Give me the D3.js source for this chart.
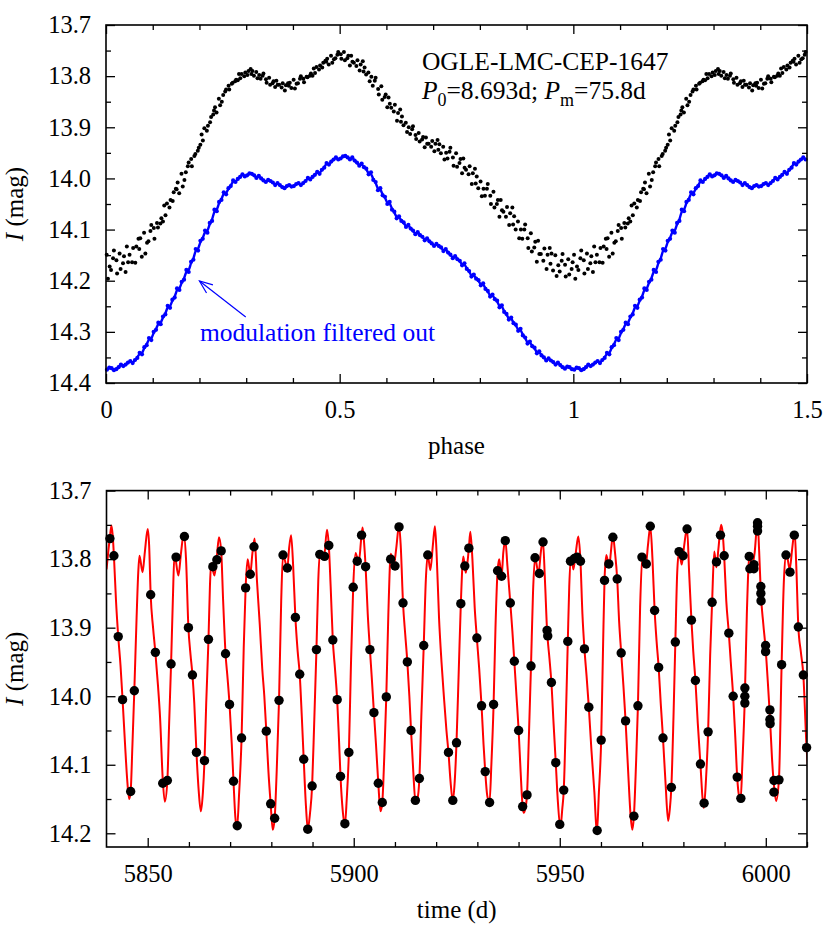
<!DOCTYPE html>
<html><head><meta charset="utf-8">
<script src="https://cdn.jsdelivr.net/npm/d3@7"></script>
<style>body{margin:0;background:#fff;}</style>
</head><body><svg id="c" width="830" height="930"></svg>
<script>
// ---------------- DATA ----------------
const phaseTickValues = [0, 0.5, 1, 1.5];
const phaseTickLabels = ["0", "0.5", "1", "1.5"];
const phaseMinorTicks = [0.1,0.2,0.3,0.4,0.6,0.7,0.8,0.9,1.1,1.2,1.3,1.4];
const magTopTickValues = [13.7,13.8,13.9,14.0,14.1,14.2,14.3,14.4];
const magTopTickLabels = ["13.7","13.8","13.9","14.0","14.1","14.2","14.3","14.4"];
const magTopMinor = [13.75,13.85,13.95,14.05,14.15,14.25,14.35];
const timeTickValues = [5850, 5900, 5950, 6000];
const timeTickLabels = ["5850", "5900", "5950", "6000"];
const timeMinorTicks = [5860,5870,5880,5890,5910,5920,5930,5940,5960,5970,5980,5990,6010];
const magBotTickValues = [13.7,13.8,13.9,14.0,14.1,14.2];
const magBotTickLabels = ["13.7","13.8","13.9","14.0","14.1","14.2"];
const magBotMinor = [13.75,13.85,13.95,14.05,14.15];

// raw photometry folded with P0 (phase, I mag)
const rawPhased = [
[0.0015,14.149],[0.0042,14.196],[0.0078,14.172],[0.0108,14.179],[0.0151,14.156],[0.0169,14.141],
[0.0223,14.160],[0.0237,14.186],[0.0291,14.147],[0.0312,14.177],[0.0364,14.166],[0.0385,14.152],
[0.0419,14.183],[0.0446,14.133],[0.0473,14.164],[0.0504,14.149],[0.0558,14.164],[0.0581,14.136],
[0.0627,14.165],[0.0649,14.133],[0.0695,14.118],[0.0711,14.138],[0.0733,14.117],[0.0766,14.153],
[0.0815,14.106],[0.0842,14.147],[0.0878,14.126],[0.0908,14.123],[0.0951,14.103],[0.0969,14.091],
[0.1023,14.097],[0.1037,14.118],[0.1091,14.087],[0.1112,14.096],[0.1164,14.088],[0.1185,14.078],
[0.1219,14.084],[0.1246,14.053],[0.1273,14.072],[0.1304,14.049],[0.1358,14.057],[0.1381,14.042],
[0.1427,14.044],[0.1449,14.027],[0.1495,14.020],[0.1511,14.021],[0.1533,14.008],[0.1566,14.029],
[0.1615,13.991],[0.1642,14.016],[0.1678,14.003],[0.1708,13.988],[0.1751,13.976],[0.1769,13.969],
[0.1823,13.962],[0.1837,13.976],[0.1891,13.956],[0.1912,13.952],[0.1964,13.946],[0.1985,13.940],
[0.2019,13.934],[0.2046,13.914],[0.2073,13.926],[0.2104,13.902],[0.2158,13.907],[0.2181,13.897],
[0.2227,13.890],[0.2249,13.880],[0.2295,13.875],[0.2311,13.867],[0.2333,13.861],[0.2366,13.871],
[0.2415,13.844],[0.2442,13.857],[0.2478,13.850],[0.2508,13.837],[0.2551,13.830],[0.2569,13.826],
[0.2623,13.819],[0.2637,13.826],[0.2691,13.815],[0.2712,13.813],[0.2764,13.810],[0.2785,13.807],
[0.2819,13.808],[0.2846,13.796],[0.2873,13.804],[0.2904,13.796],[0.2958,13.800],[0.2981,13.793],
[0.3027,13.798],[0.3049,13.790],[0.3095,13.786],[0.3111,13.796],[0.3133,13.790],[0.3166,13.799],
[0.3215,13.792],[0.3242,13.804],[0.3278,13.798],[0.3308,13.805],[0.3351,13.799],[0.3369,13.795],
[0.3423,13.806],[0.3437,13.813],[0.3491,13.803],[0.3512,13.817],[0.3564,13.814],[0.3585,13.810],
[0.3619,13.821],[0.3646,13.809],[0.3673,13.817],[0.3704,13.817],[0.3758,13.822],[0.3781,13.814],
[0.3827,13.828],[0.3849,13.818],[0.3895,13.814],[0.3911,13.819],[0.3933,13.813],[0.3966,13.823],
[0.4015,13.807],[0.4042,13.824],[0.4078,13.815],[0.4108,13.814],[0.4151,13.805],[0.4169,13.800],
[0.4223,13.805],[0.4237,13.812],[0.4291,13.801],[0.4312,13.802],[0.4364,13.799],[0.4385,13.795],
[0.4419,13.799],[0.4446,13.785],[0.4473,13.794],[0.4504,13.782],[0.4558,13.787],[0.4581,13.779],
[0.4627,13.783],[0.4649,13.774],[0.4695,13.770],[0.4711,13.772],[0.4733,13.766],[0.4766,13.777],
[0.4815,13.760],[0.4842,13.774],[0.4878,13.767],[0.4908,13.765],[0.4951,13.758],[0.4969,13.753],
[0.5023,13.757],[0.5037,13.766],[0.5091,13.753],[0.5112,13.769],[0.5164,13.765],[0.5185,13.760],
[0.5219,13.779],[0.5246,13.760],[0.5273,13.772],[0.5304,13.774],[0.5358,13.780],[0.5381,13.769],
[0.5427,13.789],[0.5449,13.777],[0.5495,13.771],[0.5511,13.791],[0.5533,13.783],[0.5566,13.797],
[0.5615,13.793],[0.5642,13.810],[0.5678,13.801],[0.5708,13.819],[0.5751,13.809],[0.5769,13.803],
[0.5823,13.825],[0.5837,13.836],[0.5891,13.820],[0.5912,13.846],[0.5964,13.841],[0.5985,13.836],
[0.6019,13.861],[0.6046,13.842],[0.6073,13.854],[0.6104,13.862],[0.6158,13.869],[0.6181,13.856],
[0.6227,13.887],[0.6249,13.872],[0.6295,13.865],[0.6311,13.889],[0.6333,13.879],[0.6366,13.896],
[0.6415,13.891],[0.6442,13.909],[0.6478,13.900],[0.6508,13.913],[0.6551,13.904],[0.6569,13.898],
[0.6623,13.915],[0.6637,13.923],[0.6691,13.911],[0.6712,13.928],[0.6764,13.924],[0.6785,13.919],
[0.6819,13.939],[0.6846,13.920],[0.6873,13.932],[0.6904,13.932],[0.6958,13.938],[0.6981,13.927],
[0.7027,13.947],[0.7049,13.932],[0.7095,13.925],[0.7111,13.944],[0.7133,13.933],[0.7166,13.951],
[0.7215,13.938],[0.7242,13.963],[0.7278,13.950],[0.7308,13.961],[0.7351,13.948],[0.7369,13.940],
[0.7423,13.959],[0.7437,13.975],[0.7491,13.951],[0.7512,13.977],[0.7564,13.970],[0.7585,13.962],
[0.7619,13.990],[0.7646,13.961],[0.7673,13.979],[0.7704,13.983],[0.7758,13.992],[0.7781,13.976],
[0.7827,14.011],[0.7849,13.990],[0.7895,13.981],[0.7911,14.010],[0.7933,13.996],[0.7966,14.019],
[0.8015,14.006],[0.8042,14.035],[0.8078,14.020],[0.8108,14.034],[0.8151,14.020],[0.8169,14.011],
[0.8223,14.034],[0.8237,14.050],[0.8291,14.026],[0.8312,14.057],[0.8364,14.050],[0.8385,14.042],
[0.8419,14.075],[0.8446,14.042],[0.8473,14.062],[0.8504,14.065],[0.8558,14.075],[0.8581,14.056],
[0.8627,14.091],[0.8649,14.068],[0.8695,14.057],[0.8711,14.090],[0.8733,14.074],[0.8766,14.100],
[0.8815,14.084],[0.8842,14.117],[0.8878,14.100],[0.8908,14.118],[0.8951,14.100],[0.8969,14.090],
[0.9023,14.117],[0.9037,14.136],[0.9091,14.107],[0.9112,14.143],[0.9164,14.135],[0.9185,14.124],
[0.9219,14.163],[0.9246,14.122],[0.9273,14.148],[0.9304,14.148],[0.9358,14.161],[0.9381,14.137],
[0.9427,14.177],[0.9449,14.149],[0.9495,14.136],[0.9511,14.167],[0.9533,14.147],[0.9566,14.180],
[0.9615,14.150],[0.9642,14.191],[0.9678,14.170],[0.9708,14.182],[0.9751,14.161],[0.9769,14.148],
[0.9823,14.169],[0.9837,14.192],[0.9891,14.158],[0.9912,14.188],[0.9964,14.177],[0.9985,14.164]
];

// modulation-filtered light curve, shifted (phase, I mag)
const filteredPhased = [
[0.002,14.374],[0.007,14.370],[0.012,14.371],[0.017,14.375],[0.022,14.373],[0.027,14.369],
[0.032,14.364],[0.037,14.367],[0.042,14.364],[0.047,14.360],[0.052,14.357],[0.057,14.361],
[0.062,14.355],[0.067,14.351],[0.072,14.341],[0.077,14.344],[0.082,14.330],[0.087,14.326],
[0.092,14.312],[0.097,14.316],[0.102,14.300],[0.107,14.296],[0.112,14.282],[0.117,14.285],
[0.122,14.270],[0.127,14.266],[0.132,14.249],[0.137,14.253],[0.142,14.237],[0.147,14.233],
[0.152,14.215],[0.157,14.218],[0.162,14.202],[0.167,14.198],[0.172,14.179],[0.177,14.183],
[0.182,14.163],[0.187,14.159],[0.192,14.138],[0.197,14.141],[0.202,14.122],[0.207,14.118],
[0.212,14.102],[0.217,14.106],[0.222,14.087],[0.227,14.083],[0.232,14.061],[0.237,14.064],
[0.242,14.046],[0.247,14.042],[0.252,14.027],[0.257,14.031],[0.262,14.019],[0.267,14.015],
[0.272,14.004],[0.277,14.007],[0.282,14.001],[0.287,13.997],[0.292,13.992],[0.297,13.996],
[0.302,13.994],[0.307,13.990],[0.312,13.991],[0.317,13.994],[0.322,13.999],[0.327,13.995],
[0.332,14.000],[0.337,14.004],[0.342,14.007],[0.347,14.003],[0.352,14.005],[0.357,14.008],
[0.362,14.013],[0.367,14.009],[0.372,14.013],[0.377,14.017],[0.382,14.019],[0.387,14.015],
[0.392,14.013],[0.397,14.016],[0.402,14.015],[0.407,14.011],[0.412,14.009],[0.417,14.013],
[0.422,14.009],[0.427,14.005],[0.432,13.999],[0.437,14.002],[0.442,13.997],[0.447,13.993],
[0.452,13.987],[0.457,13.991],[0.462,13.983],[0.467,13.979],[0.472,13.970],[0.477,13.973],
[0.482,13.967],[0.487,13.963],[0.492,13.959],[0.497,13.963],[0.502,13.961],[0.507,13.957],
[0.512,13.956],[0.517,13.959],[0.522,13.963],[0.527,13.959],[0.532,13.965],[0.537,13.969],
[0.542,13.975],[0.547,13.971],[0.552,13.978],[0.557,13.981],[0.562,13.992],[0.567,13.988],
[0.572,14.003],[0.577,14.007],[0.582,14.023],[0.587,14.019],[0.592,14.033],[0.597,14.036],
[0.602,14.050],[0.607,14.046],[0.612,14.061],[0.617,14.065],[0.622,14.078],[0.627,14.074],
[0.632,14.083],[0.637,14.086],[0.642,14.095],[0.647,14.091],[0.652,14.098],[0.657,14.102],
[0.662,14.109],[0.667,14.105],[0.672,14.111],[0.677,14.114],[0.682,14.121],[0.687,14.117],
[0.692,14.123],[0.697,14.127],[0.702,14.132],[0.707,14.128],[0.712,14.132],[0.717,14.135],
[0.722,14.142],[0.727,14.138],[0.732,14.145],[0.737,14.149],[0.742,14.156],[0.747,14.152],
[0.752,14.158],[0.757,14.161],[0.762,14.170],[0.767,14.166],[0.772,14.177],[0.777,14.181],
[0.782,14.192],[0.787,14.188],[0.792,14.196],[0.797,14.199],[0.802,14.209],[0.807,14.205],
[0.812,14.216],[0.817,14.220],[0.822,14.231],[0.827,14.227],[0.832,14.236],[0.837,14.239],
[0.842,14.252],[0.847,14.248],[0.852,14.261],[0.857,14.265],[0.862,14.276],[0.867,14.272],
[0.872,14.283],[0.877,14.286],[0.882,14.298],[0.887,14.294],[0.892,14.307],[0.897,14.311],
[0.902,14.323],[0.907,14.319],[0.912,14.328],[0.917,14.331],[0.922,14.342],[0.927,14.338],
[0.932,14.346],[0.937,14.350],[0.942,14.356],[0.947,14.352],[0.952,14.356],[0.957,14.359],
[0.962,14.364],[0.967,14.360],[0.972,14.365],[0.977,14.369],[0.982,14.372],[0.987,14.368],
[0.992,14.369],[0.997,14.373]
];

// observations in time (HJD-2450000, I mag)
const obsTime = [
[5840.83,13.770],[5841.8,13.795],[5842.85,13.913],[5843.9,14.005],[5845.86,14.139],[5846.75,13.992],
[5850.72,13.852],[5851.86,13.936],[5853.64,14.127],[5854.77,14.123],[5855.67,13.953],[5856.88,13.797],
[5858.91,13.767],[5859.88,13.900],[5860.86,13.969],[5861.83,14.082],[5863.78,14.094],[5864.75,13.917],
[5865.81,13.811],[5866.78,13.801],[5867.83,13.788],[5868.89,13.938],[5869.86,14.012],[5870.82,14.124],
[5871.73,14.189],[5872.78,14.061],[5873.76,13.842],[5874.89,13.822],[5875.79,13.782],[5878.78,14.051],
[5879.84,14.157],[5880.81,14.178],[5881.87,14.006],[5882.84,13.794],[5883.89,13.813],[5885.84,13.885],
[5886.89,13.968],[5887.86,14.092],[5888.84,14.194],[5889.90,14.131],[5890.95,13.932],[5891.76,13.793],
[5892.90,13.796],[5893.95,13.780],[5894.92,13.918],[5895.98,14.005],[5896.79,14.117],[5897.85,14.186],
[5898.82,14.082],[5899.87,13.841],[5900.85,13.803],[5901.90,13.765],[5902.88,13.811],[5903.93,13.932],
[5904.90,14.024],[5905.96,14.127],[5906.93,14.155],[5907.90,14.001],[5908.96,13.800],[5910.01,13.810],
[5910.99,13.753],[5911.96,13.864],[5913.01,13.950],[5913.91,14.050],[5914.96,14.152],[5915.93,14.120],
[5916.99,13.926],[5917.96,13.794],[5922.99,14.082],[5924.04,14.152],[5924.94,14.068],[5925.99,13.865],
[5926.96,13.810],[5927.94,13.784],[5929.88,13.915],[5931.02,14.014],[5931.91,14.110],[5932.97,14.155],
[5933.94,14.012],[5934.91,13.817],[5935.88,13.825],[5936.78,13.773],[5938.00,13.864],[5938.97,13.949],
[5940.02,14.050],[5940.99,14.161],[5942.05,14.144],[5943.02,13.956],[5944.00,13.798],[5945.05,13.821],
[5945.94,13.775],[5946.92,13.904],[5947.08,13.912],[5947.97,13.980],[5949.03,14.097],[5950.00,14.187],
[5950.97,14.137],[5951.95,13.920],[5952.60,13.803],[5953.56,13.799],[5954.21,13.797],[5955.02,13.803],
[5955.99,13.931],[5957.05,14.016],[5959.08,14.196],[5960.05,14.064],[5960.86,13.831],[5961.91,13.807],
[5962.89,13.768],[5963.94,13.829],[5964.91,13.937],[5965.97,14.036],[5967.99,14.175],[5968.97,14.014],
[5969.94,13.797],[5971.00,13.807],[5971.97,13.752],[5973.02,13.875],[5974.00,13.958],[5975.05,14.061],
[5977.08,14.133],[5978.05,13.921],[5978.95,13.789],[5979.92,13.795],[5980.89,13.756],[5981.95,13.889],
[5982.92,13.977],[5984.14,14.099],[5985.03,14.156],[5986.00,14.052],[5986.97,13.863],[5988.03,13.804],
[5989.00,13.765],[5989.90,13.795],[5991.03,13.908],[5992.08,14.000],[5993.06,14.118],[5993.95,14.149],
[5994.92,13.988],[5994.92,14.000],[5994.92,14.010],[5995.98,13.796],[5996.14,13.814],[5997.11,13.808],
[5997.11,13.814],[5998.00,13.747],[5998.00,13.752],[5998.00,13.759],[5998.80,13.840],[5998.80,13.850],
[5998.85,13.861],[5999.95,13.926],[5999.95,13.935],[6001.00,14.020],[6001.00,14.034],[6001.05,14.040],
[6001.98,14.123],[6001.98,14.140],[6003.20,14.122],[6003.84,13.954],[6004.90,13.794],[6005.87,13.819],
[6006.92,13.765],[6007.90,13.899],[6009.11,13.969],[6009.90,14.075]
];

// model fit in time (HJD-2450000, I mag)
const modelTime = [
[5840.0,13.815],[5840.5,13.785],[5840.83,13.768],[5841.2,13.751],[5841.5,13.765],[5841.8,13.795],
[5842.3,13.860],[5842.85,13.913],[5843.4,13.955],[5843.9,14.005],[5844.5,14.070],[5845.0,14.120],
[5845.5,14.150],[5845.86,14.139],[5846.3,14.070],[5846.75,13.992],[5847.3,13.886],[5847.7,13.820],
[5848.0,13.795],[5848.75,13.819],[5849.3,13.790],[5850.0,13.756],[5850.35,13.780],[5850.72,13.852],
[5851.3,13.900],[5851.86,13.936],[5852.5,13.985],[5853.0,14.031],[5853.64,14.120],[5854.15,14.154],
[5854.77,14.123],[5855.2,14.040],[5855.67,13.953],[5856.1,13.860],[5856.5,13.793],[5857.45,13.824],
[5858.1,13.790],[5858.75,13.763],[5859.3,13.800],[5859.88,13.900],[5860.4,13.940],[5860.86,13.969],
[5861.3,14.010],[5861.83,14.082],[5862.4,14.140],[5862.9,14.168],[5863.4,14.140],[5863.78,14.094],
[5864.2,14.010],[5864.75,13.917],[5865.1,13.840],[5865.4,13.806],[5866.2,13.824],[5866.8,13.795],
[5867.3,13.768],[5867.83,13.788],[5868.3,13.860],[5868.89,13.938],[5869.4,13.975],[5869.86,14.012],
[5870.4,14.070],[5870.82,14.124],[5871.25,14.175],[5871.65,14.194],[5872.2,14.140],[5872.78,14.061],
[5873.3,13.930],[5873.76,13.842],[5874.25,13.800],[5874.89,13.822],[5875.4,13.792],[5875.95,13.770],
[5876.5,13.830],[5877.2,13.896],[5877.8,13.960],[5878.3,14.000],[5878.78,14.051],[5879.3,14.110],
[5879.84,14.157],[5880.35,14.195],[5880.81,14.178],[5881.3,14.110],[5881.87,14.006],[5882.4,13.860],
[5882.84,13.794],[5883.89,13.813],[5884.3,13.785],[5884.8,13.765],[5885.3,13.810],[5885.84,13.885],
[5886.4,13.935],[5886.89,13.968],[5887.4,14.030],[5887.86,14.092],[5888.4,14.160],[5888.85,14.194],
[5889.4,14.170],[5889.9,14.131],[5890.4,14.040],[5890.95,13.932],[5891.4,13.830],[5891.76,13.792],
[5892.8,13.797],[5893.5,13.757],[5893.95,13.780],[5894.4,13.840],[5894.92,13.918],[5895.45,13.960],
[5895.98,14.005],[5896.4,14.060],[5896.79,14.117],[5897.3,14.165],[5897.85,14.188],[5898.3,14.150],
[5898.82,14.082],[5899.3,13.960],[5899.87,13.841],[5900.45,13.791],[5901.2,13.805],[5901.9,13.765],
[5902.15,13.754],[5902.5,13.775],[5902.88,13.811],[5903.4,13.880],[5903.93,13.932],[5904.4,13.975],
[5904.9,14.024],[5905.4,14.070],[5905.96,14.127],[5906.5,14.168],[5906.93,14.155],[5907.4,14.090],
[5907.9,14.001],[5908.4,13.880],[5909.0,13.792],[5909.75,13.808],[5910.3,13.785],[5911.0,13.751],
[5911.4,13.780],[5911.96,13.864],[5912.5,13.910],[5913.01,13.950],[5913.5,14.000],[5913.91,14.050],
[5914.45,14.110],[5915.0,14.155],[5915.45,14.150],[5915.93,14.120],[5916.4,14.030],[5916.99,13.926],
[5917.5,13.830],[5917.96,13.794],[5918.6,13.816],[5919.2,13.780],[5919.7,13.752],[5920.1,13.790],
[5920.7,13.886],[5921.3,13.950],[5921.9,14.002],[5922.5,14.050],[5922.99,14.082],[5923.5,14.125],
[5924.04,14.153],[5924.5,14.125],[5924.94,14.068],[5925.5,13.960],[5925.99,13.865],[5926.6,13.796],
[5927.2,13.820],[5927.94,13.784],[5928.3,13.760],[5928.8,13.800],[5929.35,13.870],[5929.88,13.915],
[5930.45,13.960],[5931.02,14.014],[5931.5,14.070],[5931.91,14.110],[5932.4,14.145],[5932.95,14.155],
[5933.4,14.100],[5933.94,14.012],[5934.4,13.900],[5934.91,13.817],[5935.3,13.800],[5935.88,13.825],
[5936.3,13.790],[5936.78,13.772],[5937.3,13.810],[5938.0,13.864],[5938.5,13.905],[5938.97,13.949],
[5939.5,14.000],[5940.02,14.050],[5940.5,14.110],[5940.99,14.161],[5941.25,14.170],[5941.6,14.165],
[5942.05,14.144],[5942.5,14.060],[5943.02,13.956],[5943.5,13.850],[5944.0,13.798],[5944.85,13.821],
[5945.4,13.790],[5945.9,13.772],[5946.4,13.830],[5946.92,13.904],[5947.5,13.945],[5947.97,13.980],
[5948.5,14.040],[5949.03,14.097],[5949.5,14.150],[5950.15,14.192],[5950.6,14.165],[5950.97,14.137],
[5951.45,14.040],[5951.95,13.920],[5952.3,13.840],[5952.8,13.796],[5953.3,13.815],[5953.9,13.790],
[5954.5,13.767],[5955.0,13.800],[5955.5,13.880],[5955.99,13.931],[5956.5,13.970],[5957.05,14.016],
[5957.7,14.080],[5958.4,14.140],[5959.0,14.200],[5959.5,14.140],[5960.05,14.064],[5960.5,13.930],
[5960.86,13.831],[5961.3,13.794],[5962.0,13.812],[5962.4,13.790],[5962.89,13.766],[5963.4,13.790],
[5963.94,13.829],[5964.4,13.890],[5964.91,13.937],[5965.45,13.985],[5965.97,14.036],[5966.6,14.110],
[5967.2,14.175],[5967.6,14.195],[5967.99,14.175],[5968.5,14.100],[5968.97,14.014],[5969.5,13.870],
[5970.1,13.793],[5970.9,13.808],[5971.4,13.780],[5971.97,13.752],[5972.5,13.800],[5973.02,13.875],
[5973.5,13.920],[5974.0,13.958],[5974.5,14.010],[5975.05,14.061],[5975.7,14.130],[5976.3,14.182],
[5976.7,14.165],[5977.08,14.133],[5977.6,14.030],[5978.05,13.921],[5978.5,13.820],[5978.95,13.789],
[5979.6,13.808],[5980.2,13.780],[5980.89,13.755],[5981.4,13.820],[5981.95,13.889],[5982.4,13.935],
[5982.92,13.977],[5983.5,14.040],[5984.14,14.099],[5984.6,14.145],[5984.95,14.163],[5985.5,14.120],
[5986.0,14.052],[5986.5,13.940],[5986.97,13.863],[5987.5,13.789],[5988.0,13.812],[5988.5,13.785],
[5989.15,13.750],[5989.5,13.760],[5989.9,13.795],[5990.4,13.860],[5991.03,13.908],[5991.5,13.950],
[5992.08,14.000],[5992.6,14.060],[5993.06,14.118],[5993.5,14.145],[5993.9,14.150],[5994.3,14.100],
[5994.92,14.000],[5995.4,13.880],[5996.05,13.794],[5996.7,13.810],[5997.3,13.790],[5998.0,13.745],
[5998.4,13.790],[5998.8,13.850],[5999.4,13.895],[5999.95,13.930],[6000.5,13.980],[6001.0,14.030],
[6001.5,14.090],[6001.98,14.130],[6002.5,14.153],[6003.2,14.120],[6003.84,13.954],[6004.4,13.830],
[6005.0,13.791],[6005.8,13.815],[6006.4,13.785],[6007.0,13.760],[6007.4,13.810],[6007.9,13.899],
[6008.5,13.935],[6009.11,13.969],[6009.9,14.075],[6010.3,14.110]
];

// ---------------- DRAWING ----------------
const FONT = '"Liberation Serif","Times New Roman",Times,serif';
const svg = d3.select("#c");
svg.append("rect").attr("width",830).attr("height",930).attr("fill","#fff");

const xTop = d3.scaleLinear().domain([0,1.5]).range([106,807]);
const yTop = d3.scaleLinear().domain([13.7,14.4]).range([25,383]);
const xBot = d3.scaleLinear().domain([5840,6010]).range([106.5,807]);
const yBot = d3.scaleLinear().domain([13.7,14.22]).range([490.6,847]);

function axes(x, y, xMaj, xLab, xMin, yMaj, yLab, yMin) {
  const g = svg.append("g").attr("font-family", FONT);
  const [x0,x1] = x.range(), [y0,y1] = y.range();
  const add = (gen, tr, vals, size, fmt, pad) => {
    const a = g.append("g").attr("transform", tr)
      .call(gen.tickValues(vals).tickSizeInner(size).tickSizeOuter(0).tickPadding(pad).tickFormat(fmt));
    a.attr("font-family", FONT).attr("font-size", 24.5);
    a.select(".domain").remove();
    a.selectAll(".tick line").attr("stroke","#000").attr("stroke-width",1.3);
    a.selectAll(".tick text").attr("fill","#000").style("font-family", FONT);
  };
  const none = () => "";
  add(d3.axisBottom(x), `translate(0,${y1})`, xMaj, -9, d => xLab[xMaj.indexOf(d)], 18);
  add(d3.axisBottom(x), `translate(0,${y1})`, xMin, -5, none, 0);
  add(d3.axisTop(x), `translate(0,${y0})`, xMaj, -9, none, 0);
  add(d3.axisTop(x), `translate(0,${y0})`, xMin, -5, none, 0);
  add(d3.axisLeft(y), `translate(${x0},0)`, yMaj, -9, d => yLab[yMaj.indexOf(d)], 15);
  add(d3.axisLeft(y), `translate(${x0},0)`, yMin, -5, none, 0);
  add(d3.axisRight(y), `translate(${x1},0)`, yMaj, -9, none, 0);
  add(d3.axisRight(y), `translate(${x1},0)`, yMin, -5, none, 0);
  g.append("rect").attr("x",x0).attr("y",y0).attr("width",x1-x0).attr("height",y1-y0)
    .attr("fill","none").attr("stroke","#000").attr("stroke-width",1.6);
}

function yLabel(cy) {
  const t = svg.append("text").attr("transform",`translate(23,${cy}) rotate(-90)`)
    .attr("text-anchor","middle").attr("font-size",25).attr("fill","#000").style("font-family",FONT);
  t.append("tspan").attr("font-style","italic").text("I");
  t.append("tspan").text(" (mag)");
}

// ---- top panel ----
const topG = svg.append("g");
const blueAll = filteredPhased.concat(filteredPhased.filter(d => d[0] <= 0.5).map(d => [d[0]+1, d[1]]))
  .sort((a,b) => a[0]-b[0]);
topG.append("path").datum(blueAll)
  .attr("d", d3.line().x(d => xTop(d[0])).y(d => yTop(d[1])).curve(d3.curveBasis))
  .attr("fill","none").attr("stroke","#0000ff").attr("stroke-width",2.4);
topG.selectAll("circle.b").data(blueAll).join("circle").attr("class","b")
  .attr("cx", d => xTop(d[0])).attr("cy", d => yTop(d[1])).attr("r", 2.1).attr("fill","#0000ff");
const blackAll = rawPhased.concat(rawPhased.filter(d => d[0] <= 0.5).map(d => [d[0]+1, d[1]]));
topG.selectAll("circle.k").data(blackAll).join("circle").attr("class","k")
  .attr("cx", d => xTop(d[0])).attr("cy", d => yTop(d[1])).attr("r", 2.0).attr("fill","#000");

axes(xTop, yTop, phaseTickValues, phaseTickLabels, phaseMinorTicks, magTopTickValues, magTopTickLabels, magTopMinor);
yLabel((25+383)/2);
svg.append("text").attr("x", xTop(0.75)).attr("y", 454).attr("text-anchor","middle")
  .attr("font-size",25).style("font-family",FONT).text("phase");

// annotations
svg.append("text").attr("x", xTop(0.676)).attr("y", yTop(13.788))
  .attr("font-size",25.5).attr("fill","#000").style("font-family",FONT).text("OGLE-LMC-CEP-1647");
const t2 = svg.append("text").attr("x", xTop(0.676)).attr("y", yTop(13.845))
  .attr("font-size",25.5).attr("fill","#000").style("font-family",FONT);
t2.append("tspan").attr("font-style","italic").text("P");
t2.append("tspan").attr("font-size",18).attr("dy",7).text("0");
t2.append("tspan").attr("dy",-7).text("=8.693d; ");
t2.append("tspan").attr("font-style","italic").text("P");
t2.append("tspan").attr("font-size",18).attr("dy",7).text("m");
t2.append("tspan").attr("dy",-7).text("=75.8d");

svg.append("text").attr("x", xTop(0.201)).attr("y", yTop(14.318))
  .attr("font-size",25.5).attr("fill","#0000ff").style("font-family",FONT).text("modulation filtered out");
// arrow
const ax0 = xTop(0.299), ay0 = yTop(14.271), ax1 = xTop(0.2), ay1 = yTop(14.2005);
svg.append("line").attr("x1",ax0).attr("y1",ay0).attr("x2",ax1).attr("y2",ay1)
  .attr("stroke","#0000ff").attr("stroke-width",1.2);
const ang = Math.atan2(ay0-ay1, ax0-ax1), hl = 14, ha = 0.38;
svg.append("path")
  .attr("d", `M${ax1+hl*Math.cos(ang+ha)},${ay1+hl*Math.sin(ang+ha)}L${ax1},${ay1}L${ax1+hl*Math.cos(ang-ha)},${ay1+hl*Math.sin(ang-ha)}`)
  .attr("fill","none").attr("stroke","#0000ff").attr("stroke-width",1.2);

// ---- bottom panel ----
svg.append("clipPath").attr("id","clipB").append("rect")
  .attr("x",106.5).attr("y",490.6).attr("width",807-106.5).attr("height",847-490.6);
const botG = svg.append("g");
botG.append("path").datum(modelTime).attr("clip-path","url(#clipB)")
  .attr("d", d3.line().x(d => xBot(d[0])).y(d => yBot(d[1])).curve(d3.curveMonotoneX))
  .attr("fill","none").attr("stroke","#ff0000").attr("stroke-width",2);
botG.selectAll("circle").data(obsTime).join("circle")
  .attr("cx", d => xBot(d[0])).attr("cy", d => yBot(d[1])).attr("r", 4.7).attr("fill","#000");

axes(xBot, yBot, timeTickValues, timeTickLabels, timeMinorTicks, magBotTickValues, magBotTickLabels, magBotMinor);
yLabel((490.6+847)/2);
svg.append("text").attr("x", xBot(5925)).attr("y", 918).attr("text-anchor","middle")
  .attr("font-size",25).style("font-family",FONT).text("time (d)");
</script>
</body></html>
